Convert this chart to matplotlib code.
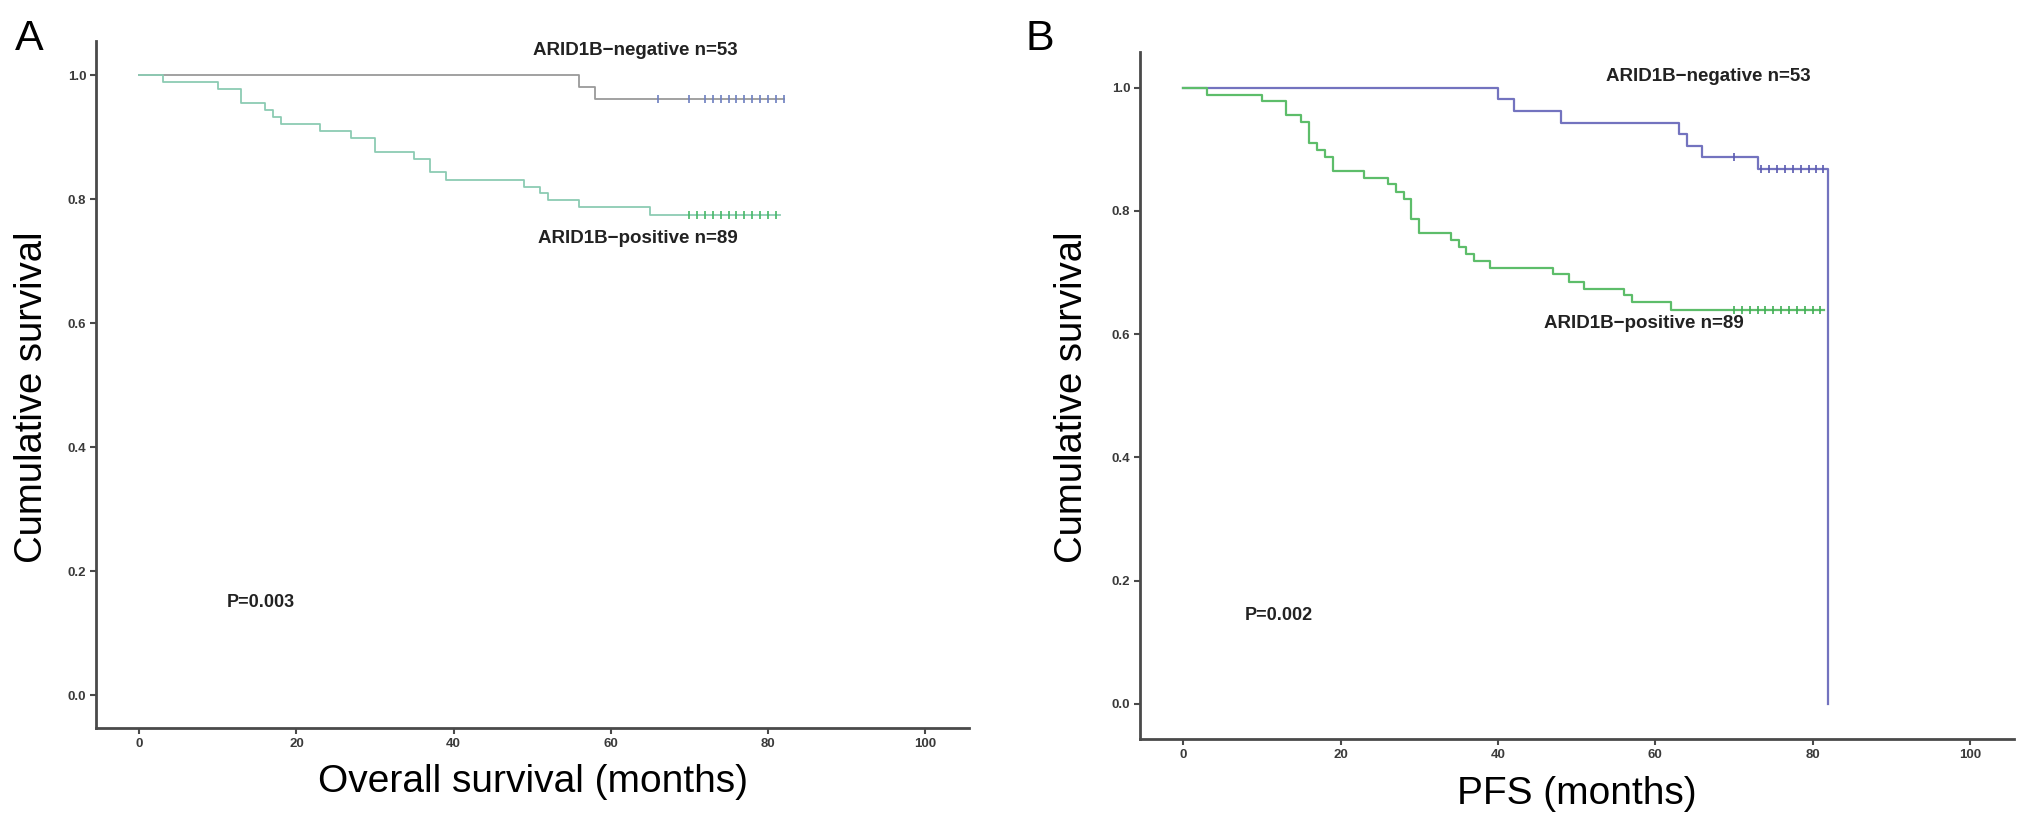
import numpy as np
import matplotlib.pyplot as plt

# Courbes de survie (Kaplan-Meier)

# A : survie globale
os_neg_t = [0, 56, 58, 82]
os_neg_s = [1.0, 0.981, 0.962, 0.962]
os_neg_cens = [66, 70, 72, 73, 74, 75, 76, 77, 78, 79, 80, 81, 82]

os_pos_t = [0, 3, 10, 13, 16, 17, 18, 23, 27, 30, 35, 37, 39, 49, 51, 52, 56, 65, 81.5]
os_pos_s = [1.0, 0.989, 0.978, 0.955, 0.944, 0.933, 0.921, 0.910, 0.899, 0.876,
            0.865, 0.843, 0.831, 0.820, 0.809, 0.798, 0.787, 0.775, 0.775]
os_pos_cens = [70, 71, 72, 73, 74, 75, 76, 77, 78, 79, 80, 81]

# B : PFS
pfs_neg_t = [0, 40, 42, 48, 63, 64, 66, 73, 82]
pfs_neg_s = [1.0, 0.981, 0.962, 0.943, 0.925, 0.906, 0.887, 0.868, 0.0]
pfs_neg_cens = [70, 73.5, 74.5, 75.5, 76.5, 77.5, 78.5, 79.5, 80.5, 81.3]

pfs_pos_t = [0, 3, 10, 13, 15, 16, 17, 18, 19, 23, 26, 27, 28, 29, 30, 34, 35, 36,
             37, 39, 47, 49, 51, 56, 57, 62, 81.5]
pfs_pos_s = [1.0, 0.989, 0.978, 0.955, 0.944, 0.910, 0.899, 0.888, 0.865, 0.854,
             0.843, 0.831, 0.820, 0.787, 0.764, 0.753, 0.742, 0.730, 0.719, 0.708,
             0.697, 0.685, 0.674, 0.663, 0.652, 0.640, 0.640]
pfs_pos_cens = [70, 71, 72, 73, 74, 75, 76, 77, 78, 79, 80, 81]

x_ticks = [0, 20, 40, 60, 80, 100]
y_ticks = [0.0, 0.2, 0.4, 0.6, 0.8, 1.0]

plt.rcParams['font.family'] = ['Liberation Sans', 'DejaVu Sans']


def niveau(t, s, c):
    i = np.searchsorted(t, c, side='right') - 1
    return np.array(s)[i]


def courbe(ax, t, s, cens, c_line, c_cens, lw):
    ax.plot(t, s, drawstyle='steps-post', color=c_line, lw=lw)
    ax.plot(cens, niveau(t, s, np.array(cens)), ls='none', marker='|',
            ms=6, mew=1.2, color=c_cens)


def axe(ax, ylim):
    ax.set_xlim(-5.5, 105.6)
    ax.set_ylim(*ylim)
    ax.spines['top'].set_visible(False)
    ax.spines['right'].set_visible(False)
    for sp in ['left', 'bottom']:
        ax.spines[sp].set_linewidth(2)
        ax.spines[sp].set_color('#4a4a4a')
    ax.set_xticks(x_ticks)
    ax.set_yticks(y_ticks)
    ax.set_yticklabels(['%.1f' % v for v in y_ticks])
    ax.tick_params(length=4, width=1.5, color='#4a4a4a', labelsize=9.5,
                   labelcolor='#3a3a3a', pad=3)
    for lab in ax.get_xticklabels() + ax.get_yticklabels():
        lab.set_fontweight('bold')
        lab.set_family(['Liberation Sans Narrow', 'Liberation Sans'])
    ax.set_ylabel('Cumulative survival', fontsize=27.5)


fig = plt.figure(figsize=(20.31, 8.22), dpi=100)
axA = fig.add_axes([0.0473, 0.1144, 0.4298, 0.8358])
axB = fig.add_axes([0.5613, 0.1010, 0.4303, 0.8357])

# Panneau A
courbe(axA, os_neg_t, os_neg_s, os_neg_cens, '#9a9a9a', '#6d7fc0', 1.3)
courbe(axA, os_pos_t, os_pos_s, os_pos_cens, '#8ccbb3', '#46b866', 1.3)
axe(axA, (-0.053, 1.055))
axA.set_xlabel('Overall survival (months)', fontsize=28)
axA.text(63.1, 1.040, 'ARID1B\u2212negative n=53', ha='center', va='center',
         fontsize=13.5, fontweight='bold', color='#222222')
axA.text(63.4, 0.737, 'ARID1B\u2212positive n=89', ha='center', va='center',
         fontsize=13.5, fontweight='bold', color='#222222')
axA.text(15.5, 0.150, 'P=0.003', ha='center', va='center',
         fontsize=13, fontweight='bold', color='#222222')

# Panneau B
courbe(axB, pfs_neg_t, pfs_neg_s, pfs_neg_cens, '#7373bf', '#5a5ab0', 1.6)
courbe(axB, pfs_pos_t, pfs_pos_s, pfs_pos_cens, '#5dbd6a', '#3fae55', 1.6)
axe(axB, (-0.057, 1.058))
axB.set_xlabel('PFS (months)', fontsize=28)
axB.text(66.8, 1.019, 'ARID1B\u2212negative n=53', ha='center', va='center',
         fontsize=13.5, fontweight='bold', color='#222222')
axB.text(58.5, 0.617, 'ARID1B\u2212positive n=89', ha='center', va='center',
         fontsize=13.5, fontweight='bold', color='#222222')
axB.text(12.1, 0.143, 'P=0.002', ha='center', va='center',
         fontsize=13, fontweight='bold', color='#222222')

# Position des titres d'axes
axA.xaxis.set_label_coords(0.5, -0.0786)
axA.xaxis.label.set_va('center')
axA.yaxis.set_label_coords(-0.0733, 0.482)
axA.yaxis.label.set_va('center')
axB.xaxis.set_label_coords(0.5, -0.080)
axB.xaxis.label.set_va('center')
axB.yaxis.set_label_coords(-0.0778, 0.497)
axB.yaxis.label.set_va('center')

fig.text(29 / 2031, 1 - 39 / 822, 'A', fontsize=31, ha='center', va='center')
fig.text(1040 / 2031, 1 - 39 / 822, 'B', fontsize=31, ha='center', va='center')

fig.savefig('out.png', dpi=100)
